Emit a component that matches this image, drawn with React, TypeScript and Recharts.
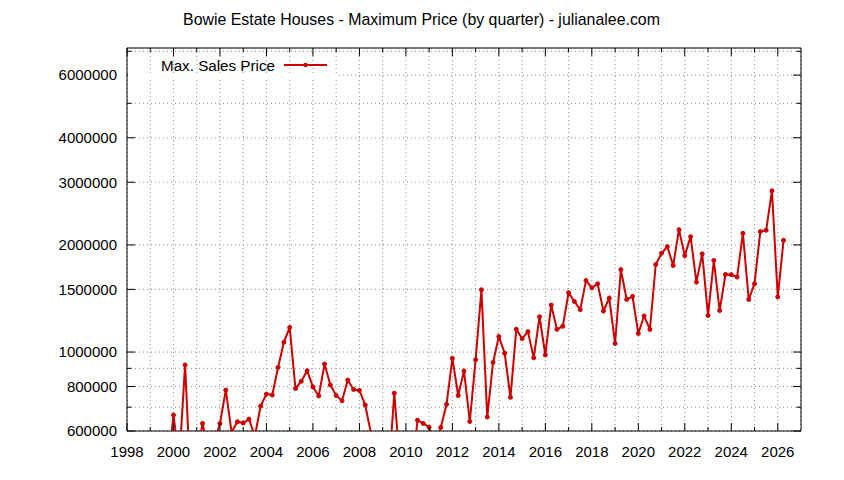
import React from 'react';
import { LineChart, Line, XAxis, YAxis, CartesianGrid, ReferenceArea, Legend } from 'recharts';

const TITLE = 'Bowie Estate Houses - Maximum Price (by quarter) - julianalee.com';
const SERIES_NAME = 'Max. Sales Price';

const quarters = [
  1999.75,
  2000.0, 2000.25, 2000.5, 2000.75,
  2001.0, 2001.25, 2001.5, 2001.75,
  2002.0, 2002.25, 2002.5, 2002.75,
  2003.0, 2003.25, 2003.5, 2003.75,
  2004.0, 2004.25, 2004.5, 2004.75,
  2005.0, 2005.25, 2005.5, 2005.75,
  2006.0, 2006.25, 2006.5, 2006.75,
  2007.0, 2007.25, 2007.5, 2007.75,
  2008.0, 2008.25, 2008.5, 2008.75,
  2009.0, 2009.25, 2009.5, 2009.75,
  2010.0, 2010.25, 2010.5, 2010.75,
  2011.0, 2011.25, 2011.5, 2011.75,
  2012.0, 2012.25, 2012.5, 2012.75,
  2013.0, 2013.25, 2013.5, 2013.75,
  2014.0, 2014.25, 2014.5, 2014.75,
  2015.0, 2015.25, 2015.5, 2015.75,
  2016.0, 2016.25, 2016.5, 2016.75,
  2017.0, 2017.25, 2017.5, 2017.75,
  2018.0, 2018.25, 2018.5, 2018.75,
  2019.0, 2019.25, 2019.5, 2019.75,
  2020.0, 2020.25, 2020.5, 2020.75,
  2021.0, 2021.25, 2021.5, 2021.75,
  2022.0, 2022.25, 2022.5, 2022.75,
  2023.0, 2023.25, 2023.5, 2023.75,
  2024.0, 2024.25, 2024.5, 2024.75,
  2025.0, 2025.25, 2025.5, 2025.75,
  2026.0, 2026.25,
];

const maxPrice = [
  461000,
  665000, 495000, 920000, 406000,
  504000, 630000, 532000, 557000,
  630000, 782000, 595000, 637000,
  632000, 648000, 580000, 705000,
  762000, 757000, 905000, 1066000,
  1172000, 790000, 828000, 886000,
  798000, 753000, 925000, 808000,
  755000, 730000, 834000, 785000,
  780000, 710000, 590000, 480000,
  470000, 447000, 766000, 480000,
  470000, 450000, 643000, 630000,
  615000, 540000, 614000, 713000,
  960000, 755000, 885000, 638000,
  952000, 1496000, 657000, 935000,
  1106000, 992000, 746000, 1158000,
  1091000, 1141000, 963000, 1257000,
  981000, 1355000, 1158000, 1181000,
  1468000, 1387000, 1316000, 1588000,
  1515000, 1555000, 1304000, 1417000,
  1057000, 1705000, 1405000, 1433000,
  1128000, 1263000, 1157000, 1762000,
  1895000, 1978000, 1750000, 2207000,
  1866000, 2110000, 1572000, 1888000,
  1267000, 1808000, 1308000, 1652000,
  1650000, 1624000, 2156000, 1405000,
  1556000, 2180000, 2198000, 2838000,
  1428000, 2060000,
];

const yearTicks = [
  1998, 1999, 2000, 2001, 2002, 2003, 2004, 2005, 2006, 2007,
  2008, 2009, 2010, 2011, 2012, 2013, 2014, 2015, 2016, 2017,
  2018, 2019, 2020, 2021, 2022, 2023, 2024, 2025, 2026,
];
const labelledYears = [1998, 2000, 2002, 2004, 2006, 2008, 2010, 2012, 2014, 2016, 2018, 2020, 2022, 2024, 2026];

const priceTicks = [600000, 700000, 800000, 900000, 1000000, 1500000, 2000000, 3000000, 4000000, 5000000, 6000000, 7000000];
const labelledPrices = [600000, 800000, 1000000, 1500000, 2000000, 3000000, 4000000, 6000000];

const X_DOMAIN = [1998, 2027];
const Y_DOMAIN = [600000, 7150000];

const data = quarters.map((q, i) => ({ q, price: maxPrice[i] }));

const FONT = '"Liberation Sans", Arial, sans-serif';
const RED = '#cc0000';
const GRID = '#8c8c8c';
const W = 844;
const H = 480;
const PLOT = { left: 127, right: 801, top: 48, bottom: 431 };

function XTick(props: any) {
  const { x, payload } = props;
  const v = payload.value;
  const major = labelledYears.includes(v);
  const len = major ? 8 : 4;
  return (
    <g>
      <line x1={x} x2={x} y1={PLOT.bottom} y2={PLOT.bottom - len} stroke="#000" strokeWidth={1} />
      <line x1={x} x2={x} y1={PLOT.top} y2={PLOT.top + len} stroke="#000" strokeWidth={1} />
      {major && (
        <text x={x} y={PLOT.bottom + 25.5} textAnchor="middle" fontSize={15} fontFamily={FONT} fill="#000">
          {v}
        </text>
      )}
    </g>
  );
}

function YTick(props: any) {
  const { y, payload } = props;
  const v = payload.value;
  const major = labelledPrices.includes(v);
  const len = major ? 8 : 4.5;
  return (
    <g>
      <line x1={PLOT.left} x2={PLOT.left + len} y1={y} y2={y} stroke="#000" strokeWidth={1} />
      <line x1={PLOT.right} x2={PLOT.right - len} y1={y} y2={y} stroke="#000" strokeWidth={1} />
      {major && (
        <text x={PLOT.left - 10} y={y + 5.3} textAnchor="end" fontSize={15} fontFamily={FONT} fill="#000">
          {v}
        </text>
      )}
    </g>
  );
}

const renderOverlay = () => (
  <svg width={W} height={100} style={{ display: 'block' }}>
    <text x={421.5} y={25} textAnchor="middle" fontSize={15.9} fontFamily={FONT} fill="#000">
      {TITLE}
    </text>
    <rect x={128} y={72.8} width={209} height={5} fill="#fff" />
    <text x={161} y={71} fontSize={15.2} fontFamily={FONT} fill="#000">
      {SERIES_NAME}
    </text>
    <line x1={284} x2={327} y1={65} y2={65} stroke={RED} strokeWidth={2} />
    <circle cx={305.5} cy={65} r={2.2} fill={RED} />
  </svg>
);

export default function App() {
  return (
    <div style={{ position: 'absolute', left: 0, top: 0, width: W, height: H, background: '#fff' }}>
      <LineChart
        width={W}
        height={H}
        data={data}
        margin={{ top: PLOT.top, right: W - PLOT.right, bottom: H - PLOT.bottom - 30, left: 0 }}
      >
        <XAxis
          xAxisId="b"
          dataKey="q"
          type="number"
          domain={X_DOMAIN}
          allowDataOverflow
          ticks={yearTicks}
          interval={0}
          height={30}
          axisLine={false}
          tickLine={false}
          tick={XTick}
        />
        <YAxis
          yAxisId="l"
          type="number"
          scale="log"
          domain={Y_DOMAIN}
          allowDataOverflow
          ticks={priceTicks}
          interval={0}
          width={PLOT.left}
          axisLine={false}
          tickLine={false}
          tick={YTick}
        />
        <CartesianGrid
          xAxisId="b"
          yAxisId="l"
          stroke={GRID}
          strokeDasharray="1 3"
          strokeWidth={1}
        />
        <ReferenceArea
          xAxisId="b"
          yAxisId="l"
          x1={X_DOMAIN[0]}
          x2={X_DOMAIN[1]}
          y1={Y_DOMAIN[0]}
          y2={Y_DOMAIN[1]}
          fill="none"
          fillOpacity={0}
          stroke="#000"
          strokeWidth={1}
          ifOverflow="visible"
        />
        <Line
          xAxisId="b"
          yAxisId="l"
          dataKey="price"
          name={SERIES_NAME}
          stroke={RED}
          strokeWidth={2}
          dot={{ r: 2, fill: RED, stroke: RED, strokeWidth: 1 }}
          isAnimationActive={false}
        />
        <Legend
          verticalAlign="middle"
          layout="horizontal"
          content={renderOverlay}
          wrapperStyle={{ left: 0, top: 0, width: W, height: 100, pointerEvents: 'none' }}
        />
      </LineChart>
    </div>
  );
}
